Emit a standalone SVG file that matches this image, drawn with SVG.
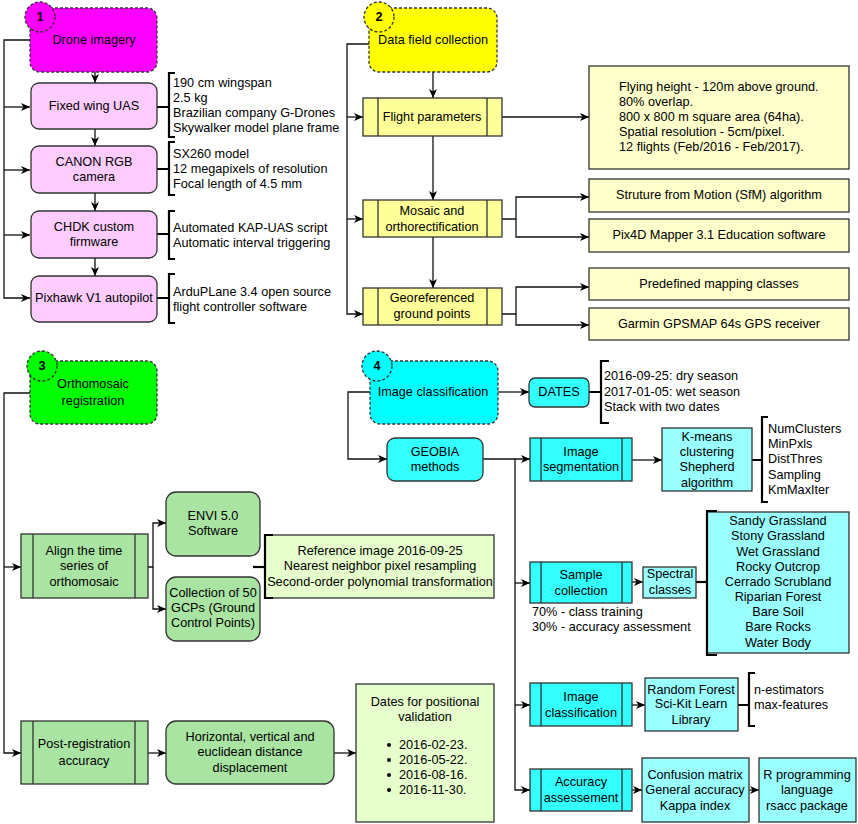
<svg xmlns="http://www.w3.org/2000/svg" width="858" height="824" viewBox="0 0 858 824">
<style>
text{font-family:"Liberation Sans",Arial,sans-serif;font-size:12.7px;fill:#000;dominant-baseline:central}
.c{text-anchor:middle}
.b{font-weight:bold}
.e{fill:none;stroke:#111;stroke-width:1.3}
.br{fill:none;stroke:#000;stroke-width:2.2}
.hd{stroke:#333;stroke-width:1.3;stroke-dasharray:3 2}
.bx{stroke:#333;stroke-width:1.3}
.pk{fill:#FFCCFF}
.yl{fill:#FFFF99}
.ly{fill:#FFFFCC}
.gr{fill:#A9E4A3}
.lg{fill:#E6FFCC}
.cy{fill:#33FFFF}
.lc{fill:#99FFFF}
</style>
<defs>
<marker id="a" markerUnits="userSpaceOnUse" markerWidth="10" markerHeight="8" refX="9" refY="4" orient="auto">
<path d="M0,0 L9,4 L0,8 L2.5,4 z" fill="#000"/>
</marker>
</defs>

<g id="connectors">
<path class="e" d="M30,40 H4 V298 H30" marker-end="url(#a)"/>
<path class="e" d="M4,107 H30" marker-end="url(#a)"/>
<path class="e" d="M4,170 H30" marker-end="url(#a)"/>
<path class="e" d="M4,235 H30" marker-end="url(#a)"/>
<path class="e" d="M95,72 V83" marker-end="url(#a)"/>
<path class="e" d="M95,129 V146" marker-end="url(#a)"/>
<path class="e" d="M95,193 V211" marker-end="url(#a)"/>
<path class="e" d="M95,258 V276" marker-end="url(#a)"/>
<path class="br" d="M157,107 H169 M157,169 H169 M157,234 H169 M157,298 H169"/>
<path class="br" d="M175,73 H169 V137 H175 M175,142 H169 V195 H175 M175,211 H169 V259 H175 M175,274 H169 V323 H175"/>
<path class="e" d="M369,44 H347 V314 H363" marker-end="url(#a)"/>
<path class="e" d="M347,117 H363" marker-end="url(#a)"/>
<path class="e" d="M347,219 H363" marker-end="url(#a)"/>
<path class="e" d="M433,72 V98" marker-end="url(#a)"/>
<path class="e" d="M433,136 V200" marker-end="url(#a)"/>
<path class="e" d="M433,237 V288" marker-end="url(#a)"/>
<path class="e" d="M502,117 H589" marker-end="url(#a)"/>
<path class="e" d="M502,219 H516 V197 H589" marker-end="url(#a)"/>
<path class="e" d="M516,219 V237 H589" marker-end="url(#a)"/>
<path class="e" d="M502,314 H516 V287 H589" marker-end="url(#a)"/>
<path class="e" d="M516,314 V325 H589" marker-end="url(#a)"/>
<path class="e" d="M30,393 H4 V753 H21" marker-end="url(#a)"/>
<path class="e" d="M4,567 H21" marker-end="url(#a)"/>
<path class="e" d="M148,567 H153 V523 H166" marker-end="url(#a)"/>
<path class="e" d="M153,567 V609 H166" marker-end="url(#a)"/>
<path class="br" d="M253,567 H265"/>
<path class="e" d="M148,753 H166" marker-end="url(#a)"/>
<path class="e" d="M334,753 H356" marker-end="url(#a)"/>
<path class="e" d="M498,392 H529" marker-end="url(#a)"/>
<path class="br" d="M589,392 H601 M609,361 H601 V423 H609"/>
<path class="e" d="M370,392 H348 V459 H387" marker-end="url(#a)"/>
<path class="e" d="M483,459 H530" marker-end="url(#a)"/>
<path class="e" d="M515,459 V790 H530" marker-end="url(#a)"/>
<path class="e" d="M515,583 H530" marker-end="url(#a)"/>
<path class="e" d="M515,705 H530" marker-end="url(#a)"/>
<path class="e" d="M632,460 H662" marker-end="url(#a)"/>
<path class="br" d="M752,460 H762 M768,417 H762 V502 H768"/>
<path class="e" d="M632,582 H643" marker-end="url(#a)"/>
<path class="br" d="M696,582 H707"/>
<path class="e" d="M632,705 H645" marker-end="url(#a)"/>
<path class="br" d="M738,705 H749 M755,673 H749 V726 H755"/>
<path class="e" d="M632,790 H642" marker-end="url(#a)"/>
<path class="e" d="M749,790 H759" marker-end="url(#a)"/>
</g>

<g id="n1">
<rect class="hd" x="30" y="8" width="127" height="64" rx="10" fill="#FF00FF"/>
<circle class="hd" cx="40" cy="17" r="15" fill="#FF00FF"/>
<text class="c b" x="40" y="17">1</text>
<text class="c" x="94" y="40">Drone imagery</text>
</g>
<g id="fixed-wing">
<rect class="bx pk" x="31" y="83" width="126" height="46" rx="8"/>
<text class="c" x="94" y="106">Fixed wing UAS</text>
</g>
<g id="canon">
<rect class="bx pk" x="31" y="146" width="126" height="47" rx="8"/>
<text class="c" x="94" y="162">CANON RGB</text>
<text class="c" x="94" y="177">camera</text>
</g>
<g id="chdk">
<rect class="bx pk" x="31" y="211" width="126" height="47" rx="8"/>
<text class="c" x="94" y="227">CHDK custom</text>
<text class="c" x="94" y="242">firmware</text>
</g>
<g id="pixhawk">
<rect class="bx pk" x="31" y="276" width="126" height="46" rx="8"/>
<text class="c" x="94" y="298">Pixhawk V1 autopilot</text>
</g>
<g id="uas-notes">
<text x="173" y="83">190 cm wingspan</text>
<text x="173" y="98">2.5 kg</text>
<text x="173" y="113">Brazilian company G-Drones</text>
<text x="173" y="128">Skywalker model plane frame</text>
</g>
<g id="canon-notes">
<text x="173" y="154">SX260 model</text>
<text x="173" y="169">12 megapixels of resolution</text>
<text x="173" y="184">Focal length of 4.5 mm</text>
</g>
<g id="chdk-notes">
<text x="173" y="228">Automated KAP-UAS script</text>
<text x="173" y="243">Automatic interval triggering</text>
</g>
<g id="pixhawk-notes">
<text x="173" y="292">ArduPLane 3.4 open source</text>
<text x="173" y="307">flight controller software</text>
</g>

<g id="n2">
<rect class="hd" x="369" y="8" width="128" height="64" rx="10" fill="#FFFF00"/>
<circle class="hd" cx="379" cy="17" r="15" fill="#FFFF00"/>
<text class="c b" x="379" y="17">2</text>
<text class="c" x="433" y="40">Data field collection</text>
</g>
<g id="flight">
<rect class="bx yl" x="363" y="98" width="139" height="38"/>
<path class="bx" d="M378,98 V136 M487,98 V136" fill="none"/>
<text class="c" x="432" y="117">Flight parameters</text>
</g>
<g id="mosaic">
<rect class="bx yl" x="363" y="200" width="139" height="37"/>
<path class="bx" d="M378,200 V237 M487,200 V237" fill="none"/>
<text class="c" x="432" y="211">Mosaic and</text>
<text class="c" x="432" y="227">orthorectification</text>
</g>
<g id="georef">
<rect class="bx yl" x="363" y="288" width="139" height="37"/>
<path class="bx" d="M378,288 V325 M487,288 V325" fill="none"/>
<text class="c" x="432" y="298">Georeferenced</text>
<text class="c" x="432" y="314">ground points</text>
</g>
<g id="flight-details">
<rect class="bx ly" x="589" y="66" width="260" height="103"/>
<text x="619" y="87">Flying height - 120m above ground.</text>
<text x="619" y="102">80% overlap.</text>
<text x="619" y="117">800 x 800 m square area (64ha).</text>
<text x="619" y="132">Spatial resolution - 5cm/pixel.</text>
<text x="619" y="147">12 flights (Feb/2016 - Feb/2017).</text>
</g>
<g id="sfm">
<rect class="bx ly" x="589" y="179" width="260" height="33"/>
<text class="c" x="719" y="195">Struture from Motion (SfM) algorithm</text>
</g>
<g id="pix4d">
<rect class="bx ly" x="589" y="219" width="260" height="33"/>
<text class="c" x="719" y="235">Pix4D Mapper 3.1 Education software</text>
</g>
<g id="predefined">
<rect class="bx ly" x="589" y="268" width="260" height="32"/>
<text class="c" x="719" y="284">Predefined mapping classes</text>
</g>
<g id="garmin">
<rect class="bx ly" x="589" y="308" width="260" height="32"/>
<text class="c" x="719" y="324">Garmin GPSMAP 64s GPS receiver</text>
</g>

<g id="n3">
<rect class="hd" x="30" y="361" width="127" height="63" rx="10" fill="#00FF00"/>
<circle class="hd" cx="42" cy="366" r="15" fill="#00FF00"/>
<text class="c b" x="42" y="366">3</text>
<text class="c" x="93" y="384">Orthomosaic</text>
<text class="c" x="93" y="401">registration</text>
</g>
<g id="align">
<rect class="bx gr" x="21" y="534" width="127" height="64"/>
<path class="bx" d="M33,534 V598 M135,534 V598" fill="none"/>
<text class="c" x="84" y="551">Align the time</text>
<text class="c" x="84" y="566">series of</text>
<text class="c" x="84" y="582">orthomosaic</text>
</g>
<g id="envi">
<rect class="bx gr" x="166" y="492" width="94" height="64" rx="10"/>
<text class="c" x="213" y="516">ENVI 5.0</text>
<text class="c" x="213" y="531">Software</text>
</g>
<g id="gcps">
<rect class="bx gr" x="166" y="577" width="94" height="64" rx="10"/>
<text class="c" x="213" y="593">Collection of 50</text>
<text class="c" x="213" y="608">GCPs (Ground</text>
<text class="c" x="213" y="623">Control Points)</text>
</g>
<g id="reference">
<rect class="bx lg" x="265" y="535" width="229" height="63"/>
<path class="br" d="M273,535 H265 V598 H273"/>
<text class="c" x="380" y="551">Reference image 2016-09-25</text>
<text class="c" x="380" y="566">Nearest neighbor pixel resampling</text>
<text class="c" x="380" y="582">Second-order polynomial transformation</text>
</g>
<g id="post-reg">
<rect class="bx gr" x="21" y="721" width="127" height="63"/>
<path class="bx" d="M33,721 V784 M135,721 V784" fill="none"/>
<text class="c" x="84" y="744">Post-registration</text>
<text class="c" x="84" y="761">accuracy</text>
</g>
<g id="displacement">
<rect class="bx gr" x="166" y="721" width="168" height="63" rx="10"/>
<text class="c" x="250" y="737">Horizontal, vertical and</text>
<text class="c" x="250" y="752">euclidean distance</text>
<text class="c" x="250" y="768">displacement</text>
</g>
<g id="dates-validation">
<rect class="bx lg" x="356" y="684" width="138" height="138"/>
<text class="c" x="425" y="702">Dates for positional</text>
<text class="c" x="425" y="717">validation</text>
<circle cx="389" cy="745" r="2"/>
<circle cx="389" cy="760" r="2"/>
<circle cx="389" cy="775" r="2"/>
<circle cx="389" cy="790" r="2"/>
<text x="399" y="745">2016-02-23.</text>
<text x="399" y="760">2016-05-22.</text>
<text x="399" y="775">2016-08-16.</text>
<text x="399" y="790">2016-11-30.</text>
</g>

<g id="n4">
<rect class="hd" x="370" y="361" width="128" height="63" rx="10" fill="#00FFFF"/>
<circle class="hd" cx="377" cy="366" r="15" fill="#00FFFF"/>
<text class="c b" x="377" y="366">4</text>
<text class="c" x="433" y="392">Image classification</text>
</g>
<g id="dates">
<rect class="bx cy" x="529" y="378" width="60" height="29" rx="6"/>
<text class="c" x="559" y="392">DATES</text>
</g>
<g id="dates-notes">
<text x="604" y="376">2016-09-25: dry season</text>
<text x="604" y="392">2017-01-05: wet season</text>
<text x="604" y="407">Stack with two dates</text>
</g>
<g id="geobia">
<rect class="bx cy" x="387" y="438" width="96" height="43" rx="8"/>
<text class="c" x="435" y="452">GEOBIA</text>
<text class="c" x="435" y="467">methods</text>
</g>
<g id="segmentation">
<rect class="bx cy" x="530" y="438" width="102" height="43"/>
<path class="bx" d="M541,438 V481 M622,438 V481" fill="none"/>
<text class="c" x="581" y="452">Image</text>
<text class="c" x="581" y="467">segmentation</text>
</g>
<g id="kmeans">
<rect class="bx lc" x="662" y="428" width="90" height="63"/>
<text class="c" x="707" y="437">K-means</text>
<text class="c" x="707" y="452">clustering</text>
<text class="c" x="707" y="467">Shepherd</text>
<text class="c" x="707" y="483">algorithm</text>
</g>
<g id="kmeans-params">
<text x="768" y="429">NumClusters</text>
<text x="768" y="444">MinPxls</text>
<text x="768" y="459">DistThres</text>
<text x="768" y="475">Sampling</text>
<text x="768" y="490">KmMaxIter</text>
</g>
<g id="sample">
<rect class="bx cy" x="530" y="562" width="102" height="41"/>
<path class="bx" d="M541,562 V603 M622,562 V603" fill="none"/>
<text class="c" x="581" y="575">Sample</text>
<text class="c" x="581" y="591">collection</text>
<text x="532" y="612">70% - class training</text>
<text x="532" y="627">30% - accuracy assessment</text>
</g>
<g id="spectral">
<rect class="bx lc" x="643" y="567" width="53" height="31"/>
<text class="c" x="670" y="574">Spectral</text>
<text class="c" x="670" y="590">classes</text>
</g>
<g id="classes">
<rect class="bx lc" x="707" y="512" width="142" height="141"/>
<path class="br" d="M717,511 H707 V655 H717"/>
<text class="c" x="778" y="521">Sandy Grassland</text>
<text class="c" x="778" y="536">Stony Grassland</text>
<text class="c" x="778" y="552">Wet Grassland</text>
<text class="c" x="778" y="567">Rocky Outcrop</text>
<text class="c" x="778" y="582">Cerrado Scrubland</text>
<text class="c" x="778" y="597">Riparian Forest</text>
<text class="c" x="778" y="612">Bare Soil</text>
<text class="c" x="778" y="627">Bare Rocks</text>
<text class="c" x="778" y="643">Water Body</text>
</g>
<g id="img-class">
<rect class="bx cy" x="530" y="683" width="102" height="43"/>
<path class="bx" d="M541,683 V726 M622,683 V726" fill="none"/>
<text class="c" x="581" y="697">Image</text>
<text class="c" x="581" y="713">classification</text>
</g>
<g id="rf">
<rect class="bx lc" x="645" y="678" width="93" height="53"/>
<text class="c" x="691" y="690">Random Forest</text>
<text class="c" x="691" y="704">Sci-Kit Learn</text>
<text class="c" x="691" y="720">Library</text>
</g>
<g id="rf-params">
<text x="754" y="690">n-estimators</text>
<text x="754" y="705">max-features</text>
</g>
<g id="accuracy">
<rect class="bx cy" x="530" y="769" width="102" height="42"/>
<path class="bx" d="M541,769 V811 M622,769 V811" fill="none"/>
<text class="c" x="581" y="782">Accuracy</text>
<text class="c" x="581" y="798">assessement</text>
</g>
<g id="confusion">
<rect class="bx lc" x="642" y="758" width="107" height="64"/>
<text class="c" x="695" y="775">Confusion matrix</text>
<text class="c" x="695" y="790">General accuracy</text>
<text class="c" x="695" y="806">Kappa index</text>
</g>
<g id="rsacc">
<rect class="bx lc" x="759" y="758" width="97" height="64"/>
<text class="c" x="807" y="775">R programming</text>
<text class="c" x="807" y="790">language</text>
<text class="c" x="807" y="806">rsacc package</text>
</g>
</svg>
